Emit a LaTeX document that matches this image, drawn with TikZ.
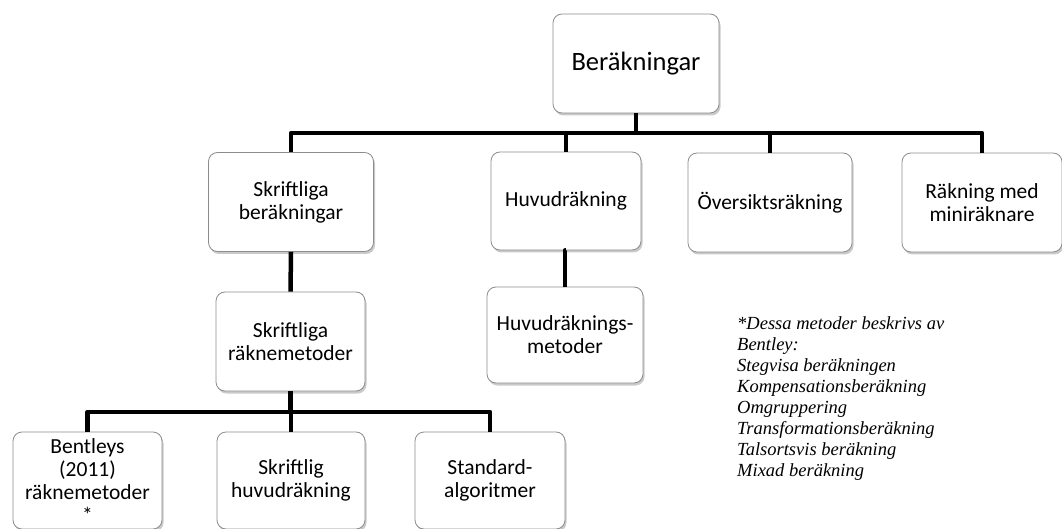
\documentclass[tikz,border=0pt]{standalone}
\usepackage{fontspec}
\setmainfont{Carlito}
\newfontfamily\notefont{Liberation Serif}
\usetikzlibrary{shadows}

\begin{document}
\begin{tikzpicture}[x=1pt,y=-1pt,
  box/.style={draw=black!45,line width=0.8pt,rounded corners=9pt,fill=white,
    align=center,inner sep=1pt,font=\fontsize{21.5}{23}\selectfont,
    drop shadow={shadow xshift=1.5pt,shadow yshift=-2.5pt,opacity=0.35,fill=black!60}},
  conn/.style={line width=4.5pt,line join=round}]
\useasboundingbox (0,0) rectangle (1062,529);
% nivå 1
\node[box,minimum width=166pt,minimum height=99pt,font=\fontsize{26.5}{30}\selectfont] (ber) at (636,63.5) {Beräkningar};
% nivå 2
\node[box,minimum width=165pt,minimum height=99pt] (skb) at (291,202) {Skriftliga\\beräkningar};
\node[box,minimum width=150pt,minimum height=98pt] (huv) at (566,201) {Huvudräkning};
\node[box,minimum width=164pt,minimum height=99pt] (ovs) at (770,202.5) {Översiktsräkning};
\node[box,minimum width=160pt,minimum height=99pt] (mini) at (982,202.5) {Räkning med\\miniräknare};
% nivå 3
\node[box,minimum width=149pt,minimum height=99pt] (skr) at (290.5,341.5) {Skriftliga\\räknemetoder};
\node[box,minimum width=156pt,minimum height=96pt] (huvm) at (565,335) {Huvudräknings-\\metoder};
% nivå 4
\node[box,minimum width=149pt,minimum height=97pt] (bent) at (87.5,480.5) {Bentleys\\(2011)\\räknemetoder\\*};
\node[box,minimum width=148pt,minimum height=97pt] (skh) at (291,480.5) {Skriftlig\\huvudräkning};
\node[box,minimum width=150pt,minimum height=97pt] (std) at (490,480.5) {Standard-\\algoritmer};
% kopplingar
\coordinate (bus1) at (0,133);
\coordinate (bus2) at (0,412);
\foreach \n in {skb,huv,ovs,mini}
  \draw[conn] (ber.south) -- (ber.south |- bus1) -| (\n.north);
\draw[conn] (huv.south) -- (huv.south -| huvm.north) -- (huvm.north);
\draw[conn] (skb.south) -- (skr.north);
\foreach \n in {bent,skh,std}
  \draw[conn] (skr.south) -- (skr.south |- bus2) -| (\n.north);
% fotnot
\node[anchor=north west,align=left,inner sep=0pt,
  font=\notefont\itshape\fontsize{18.5}{21}\selectfont] (note) at (737,316)
  {*Dessa metoder beskrivs av\\Bentley:\\Stegvisa beräkningen\\Kompensationsberäkning\\Omgruppering\\Transformationsberäkning\\Talsortsvis beräkning\\Mixad beräkning};
\end{tikzpicture}
\end{document}
